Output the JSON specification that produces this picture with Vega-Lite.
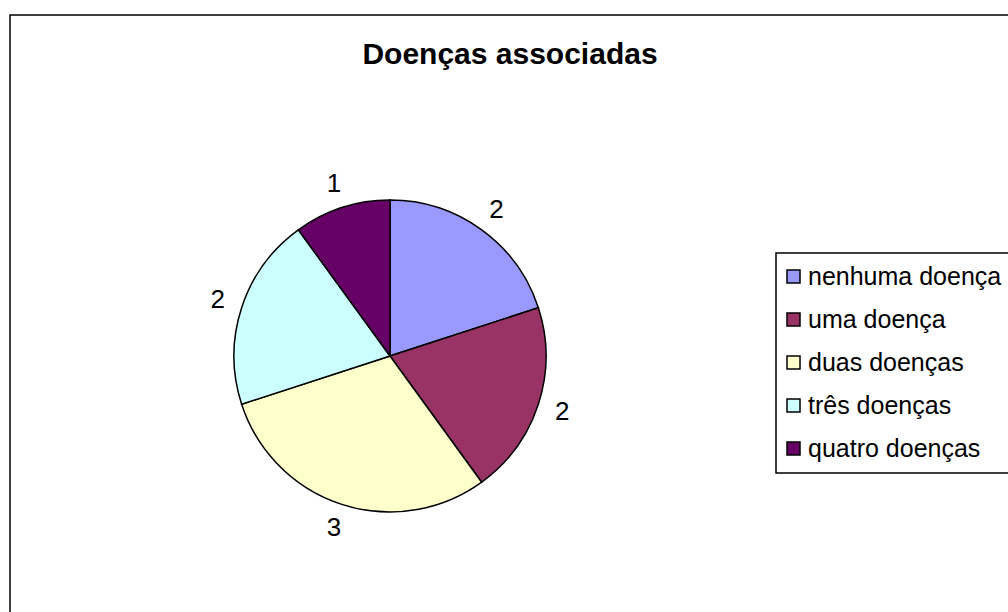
{
  "$schema": "https://vega.github.io/schema/vega-lite/v6.json",
  "width": 1000,
  "height": 682,
  "autosize": "none",
  "padding": {"left": 10, "top": 15, "right": 0, "bottom": 0},
  "background": "white",
  "config": {
    "view": {"stroke": "black", "strokeWidth": 1.5},
    "font": "Liberation Sans"
  },
  "title": {
    "text": "Doenças associadas",
    "font": "Liberation Sans",
    "fontSize": 30,
    "fontWeight": "bold",
    "color": "black",
    "anchor": "middle",
    "baseline": "middle",
    "frame": "group",
    "offset": -71
  },
  "data": {
    "values": [
      {"categoria": "nenhuma doença", "ordem": 1, "valor": 2},
      {"categoria": "uma doença", "ordem": 2, "valor": 2},
      {"categoria": "duas doenças", "ordem": 3, "valor": 3},
      {"categoria": "três doenças", "ordem": 4, "valor": 2},
      {"categoria": "quatro doenças", "ordem": 5, "valor": 1}
    ]
  },
  "layer": [
    {
      "data": {"values": [{"moldura": "borda"}]},
      "mark": {"type": "rect", "filled": false, "stroke": "black", "strokeWidth": 1.5},
      "encoding": {}
    },
    {
      "mark": {"type": "arc", "outerRadius": 156, "stroke": "black", "strokeWidth": 1.5, "xOffset": -120, "yOffset": 0},
      "encoding": {
        "theta": {"field": "valor", "type": "quantitative", "stack": true},
        "order": {"field": "ordem", "type": "quantitative"},
        "color": {
          "field": "categoria",
          "type": "nominal",
          "sort": ["nenhuma doença", "uma doença", "duas doenças", "três doenças", "quatro doenças"],
          "scale": {
            "domain": ["nenhuma doença", "uma doença", "duas doenças", "três doenças", "quatro doenças"],
            "range": ["#9999FF", "#993366", "#FFFFCC", "#CCFFFF", "#660066"]
          },
          "legend": {
            "title": null,
            "orient": "none",
            "legendX": 766,
            "legendY": 238,
            "strokeColor": "black",
            "fillColor": "white",
            "padding": 11,
            "symbolType": "square",
            "symbolSize": 169,
            "symbolOffset": -6,
            "symbolStrokeColor": "black",
            "symbolStrokeWidth": 1.5,
            "symbolOpacity": 1,
            "labelFont": "Liberation Sans",
            "labelFontSize": 25,
            "labelColor": "black",
            "labelOffset": 2,
            "labelLimit": 400,
            "rowPadding": 17,
            "encode": {"legend": {"update": {"strokeWidth": {"value": 1.5}}}}
          }
        }
      }
    },
    {
      "mark": {"type": "text", "radius": 181, "fontSize": 26, "font": "Liberation Sans", "color": "black", "align": "center", "baseline": "middle", "xOffset": -120, "yOffset": 0},
      "encoding": {
        "theta": {"field": "valor", "type": "quantitative", "stack": true},
        "order": {"field": "ordem", "type": "quantitative"},
        "text": {"field": "valor", "type": "quantitative"}
      }
    }
  ]
}
